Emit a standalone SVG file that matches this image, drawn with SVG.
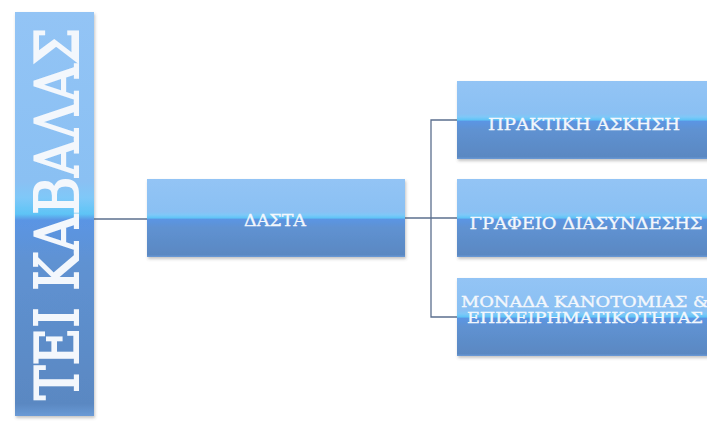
<svg xmlns="http://www.w3.org/2000/svg" width="707" height="421" viewBox="0 0 707 421">
<defs>
<linearGradient id="g" x1="0" y1="0" x2="0" y2="1">
<stop offset="0" stop-color="#93c4f5"/>
<stop offset="0.42" stop-color="#8ac0f3"/>
<stop offset="0.46" stop-color="#7fc8f8"/>
<stop offset="0.5" stop-color="#5ec4f6"/>
<stop offset="0.515" stop-color="#5a95e4"/>
<stop offset="0.62" stop-color="#5f92d2"/>
<stop offset="0.97" stop-color="#5a88c2"/>
<stop offset="1" stop-color="#6a9ad6"/>
</linearGradient>
<filter id="sh" x="-10%" y="-10%" width="130%" height="140%">
<feDropShadow dx="1" dy="2" stdDeviation="1.5" flood-color="#555" flood-opacity="0.35"/>
</filter>
</defs>
<style>
.box{fill:url(#g);filter:url(#sh)}
.t{font-family:"DejaVu Serif","Liberation Serif",serif;fill:#f3f7fc;stroke:#f3f7fc;stroke-width:0.35;text-anchor:middle;font-size:16px}
.c{stroke:#5b6f8e;stroke-width:1.3;fill:none}
</style>
<rect width="707" height="421" fill="#ffffff"/>
<g id="connectors">
<line class="c" x1="94" y1="219" x2="147" y2="219"/>
<line class="c" x1="405" y1="218" x2="457" y2="218"/>
<path class="c" d="M457 120 H431 V317 H457"/>
</g>
<g id="tei">
<rect class="box" x="15" y="12" width="79" height="404"/>
<text class="t" transform="translate(78,214) rotate(-90)" style="font-size:60px;stroke-width:2" textLength="372" lengthAdjust="spacingAndGlyphs">ΤΕΙ ΚΑΒΑΛΑΣ</text>
</g>
<g id="dasta">
<rect class="box" x="147" y="179" width="258" height="78"/>
<text class="t" x="275" y="226" style="font-size:16.5px" textLength="62" lengthAdjust="spacingAndGlyphs">ΔΑΣΤΑ</text>
</g>
<g id="praktiki">
<rect class="box" x="457" y="81" width="260" height="78"/>
<text class="t" x="584" y="130" textLength="192" lengthAdjust="spacingAndGlyphs">ΠΡΑΚΤΙΚΗ ΑΣΚΗΣΗ</text>
</g>
<g id="grafeio">
<rect class="box" x="457" y="179" width="260" height="78"/>
<text class="t" x="586" y="229" textLength="233" lengthAdjust="spacingAndGlyphs">ΓΡΑΦΕΙΟ ΔΙΑΣΥΝΔΕΣΗΣ</text>
</g>
<g id="monada">
<rect class="box" x="457" y="278" width="260" height="78"/>
<text class="t" x="585" y="307" style="font-size:14.5px" textLength="248" lengthAdjust="spacingAndGlyphs">ΜΟΝΑΔΑ ΚΑΝΟΤΟΜΙΑΣ &amp;</text>
<text class="t" x="585" y="323" style="font-size:14.5px" textLength="236" lengthAdjust="spacingAndGlyphs">ΕΠΙΧΕΙΡΗΜΑΤΙΚΟΤΗΤΑΣ</text>
</g>
</svg>
